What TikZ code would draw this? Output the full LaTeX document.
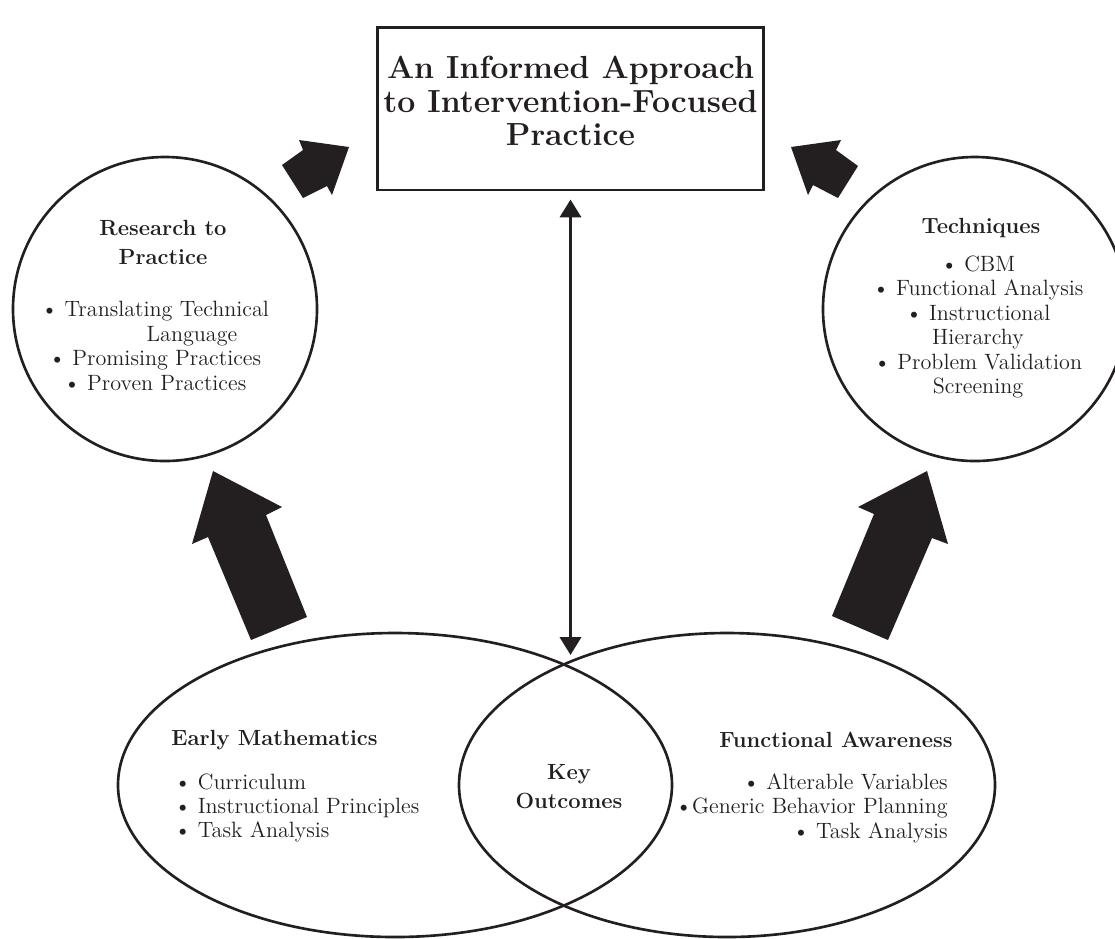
\documentclass[tikz,border=0pt]{standalone}
\usepackage{fontspec}
\usepackage{tikz}
\usetikzlibrary{arrows.meta, calc}
\definecolor{ink}{RGB}{35,31,32}
\newcommand{\bul}{\textbullet\kern0.3em}
\tikzstyle{blockarrow} = [fill=ink, draw=none]
\tikzstyle{ring} = [draw=ink, line width=1.5pt]
\tikzstyle{duplex} = [draw=ink, line width=2.2pt, {Triangle[length=0.36cm,width=0.42cm]}-{Triangle[length=0.36cm,width=0.42cm]}]
\tikzstyle{headtext} = [text=ink, font=\fontsize{12.5}{16.5}\selectfont\bfseries, align=center, inner sep=0pt]
\tikzstyle{listtext} = [text=ink, font=\fontsize{12.6}{13.9}\selectfont, inner sep=0pt]

\begin{document}
\begin{tikzpicture}[x=0.02cm, y=-0.02cm]

        \clip (0,0) rectangle (1115,938);

        % Title box
        \node[draw=ink, line width=1.7pt, minimum width=7.74cm, minimum height=3.26cm, inner sep=0pt] (title) at (570.5,108.5) {};
        \node[text=ink, font=\fontsize{18.2}{19.2}\selectfont\bfseries, align=center, inner sep=0pt] (titletext) at (570.5,101) {An Informed Approach\\to Intervention-Focused\\Practice};

        % Circles
        \draw[ring] (165,309) circle (152);
        \draw[ring] (975,309) circle (152);

        % Overlapping ellipses
        \draw[ring] (395,785) ellipse (277 and 152);
        \draw[ring] (727,785) ellipse (268 and 152);

        % Small arrows to the title
        \fill[blockarrow] (349,147) -- (299,140) -- (303,150) -- (282,165) -- (303,198) -- (327,186) -- (332,195) -- cycle;
        \fill[blockarrow] (791,147) -- (841,140) -- (836,150) -- (858,166) -- (838,198) -- (813,185) -- (808,195) -- cycle;

        % Big arrows to the circles
        \fill[blockarrow] (213,471) -- (282,507) -- (266,515) -- (307,617) -- (251,640) -- (208,537) -- (192,544) -- cycle;
        \fill[blockarrow] (927,471) -- (858,507) -- (874,514) -- (832,616) -- (888,640) -- (932,538) -- (948,544) -- cycle;

        % Two-way arrow
        \coordinate (cross) at (570.5,655);
        \draw[duplex] ([yshift=-0.16cm]title.south) -- (cross);

        % Research to Practice
        \node[headtext] (research) at (163,242) {Research to\\Practice};
        \node[listtext, align=center] (researchlist) at (155,346) {\bul Translating Technical\\\hspace*{1.48cm}Language\\\bul Promising Practices\\\bul Proven Practices};

        % Techniques
        \node[headtext] (techniques) at (981,228) {Techniques};
        \node[listtext, align=center] (techlist) at (978,327) {\bul CBM\\\bul Functional Analysis\\\bul Instructional\\Hierarchy\\\bul Problem Validation\\Screening};

        % Early Mathematics
        \node[headtext, anchor=west] (earlymath) at (171,740) {Early Mathematics};
        \node[listtext, align=left, anchor=west] (mathlist) at (174,808) {\bul Curriculum\\\bul Instructional Principles\\\bul Task Analysis};

        % Functional Awareness
        \node[headtext, anchor=east] (awareness) at (953,740) {Functional Awareness};
        \node[listtext, align=right, anchor=east] (awarelist) at (948,808) {\bul Alterable Variables\\\textbullet Generic Behavior Planning\\\bul Task Analysis};

        % Key Outcomes
        \node[headtext] (keyout) at (569,787) {Key\\Outcomes};

\end{tikzpicture}
\end{document}
